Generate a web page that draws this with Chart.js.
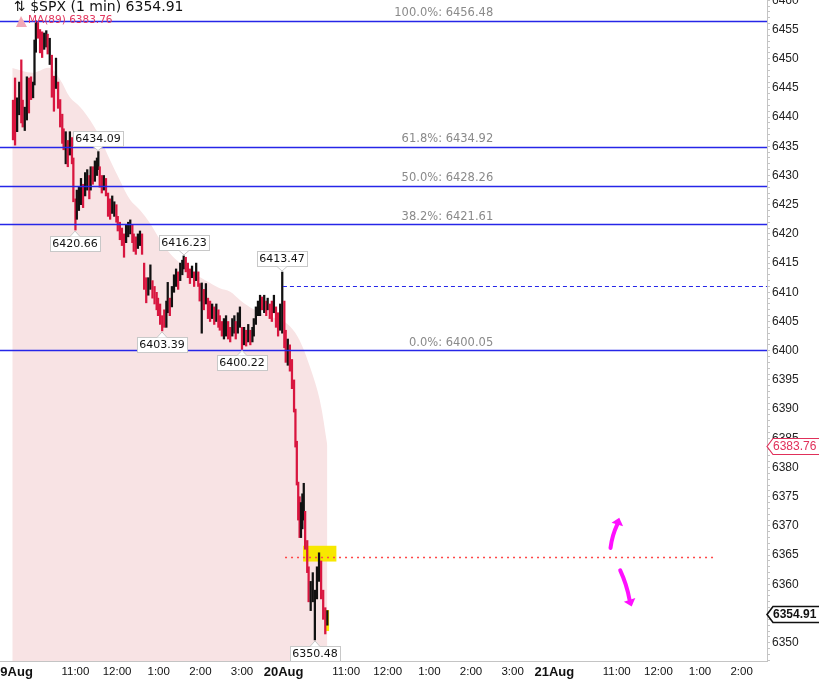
<!DOCTYPE html>
<html>
<head>
<meta charset="utf-8">
<script src="https://cdn.jsdelivr.net/npm/chart.js@4.4.1/dist/chart.umd.min.js"></script>
<style>
html, body { margin: 0; padding: 0; background: #fff; }
#wrap { position: relative; width: 819px; height: 680px; overflow: hidden; }
#spx { position: absolute; left: -20px; top: -10px; }
</style>
</head>
<body>
<div id="wrap"><canvas id="spx" width="839" height="690"></canvas></div>
<script>
// x = trading minutes counted from 19 Aug 09:30 (390 per session)
const tickMinutes = [0, 90, 150, 210, 270, 330, 390, 480, 540, 600, 660, 720, 780, 870, 930, 990, 1050];
const tickLabels = ['19Aug', '11:00', '12:00', '1:00', '2:00', '3:00', '20Aug', '11:00', '12:00', '1:00', '2:00', '3:00', '21Aug', '11:00', '12:00', '1:00', '2:00'];
const priceLabels = [6350, 6355, 6360, 6365, 6370, 6375, 6380, 6385, 6390, 6395, 6400, 6405, 6410, 6415, 6420, 6425, 6430, 6435, 6440, 6445, 6450, 6455, 6460];

const barMinutes = [0,3,6,9,12,14,17,20,23,26, 29,31,33,36,39,42,45,48,50,53,
  56,59,62,65,68,71,73,76,79,82, 85,87,90,92,95,98,101,104,107,110,
  112,115,118,121,123,125,128,131,134,137, 140,143,146,149,151,154,157,160,163,166,
  169,172,174,177,180,183,186,189,192,195, 198,201,204,207,209,212,215,218,221,223,
  226,229,232,235,238,241,244,246,249,252, 255,258,261,264,267,269,272,275,278,281,
  284,287,290,293,296,298,301,304,307,310, 313,316,319,321,324,327,330,333,336,339,
  342,345,347,350,353,356,359,362,365,367, 370,373,376,379,382,385,388,391,393,396,
  399,402,405,407,409,411,413,415,417,419, 421,424,426,429,432,435,438,441,444,447,
  450,453];
const barLow = [6436.1,6435.2,6437.5,6440.4,6439.0,6438.3,6437.7,6439.5,6440.7,6443.0,
  6443.3,6445.5,6451.1,6453.5,6451.0,6450.2,6451.6,6452.0,6450.8,6449.0,
  6443.4,6441.0,6444.9,6441.5,6438.3,6435.5,6434.4,6432.0,6431.5,6433.5,
  6432.0,6425.5,6420.66,6422.5,6424.0,6425.0,6424.5,6426.5,6427.5,6426.0,
  6427.5,6428.5,6429.0,6430.0,6431.0,6428.0,6427.0,6427.5,6426.5,6423.0,
  6422.5,6423.5,6423.0,6422.0,6420.5,6419.0,6418.0,6416.0,6418.5,6419.5,
  6420.0,6418.5,6417.0,6416.5,6417.5,6418.0,6416.5,6410.5,6408.2,6409.5,
  6410.5,6409.0,6408.0,6407.0,6406.0,6404.5,6403.39,6404.0,6404.0,6406.5,
  6406.0,6407.5,6410.0,6411.0,6410.5,6412.0,6413.0,6414.0,6413.5,6412.5,
  6411.5,6412.5,6411.0,6412.0,6411.0,6408.5,6403.0,6407.0,6408.0,6405.5,
  6405.0,6405.5,6404.5,6405.0,6404.0,6403.5,6402.5,6402.0,6402.5,6402.0,
  6401.5,6402.5,6403.0,6402.0,6403.0,6404.0,6400.22,6401.0,6400.8,6401.5,
  6401.0,6401.5,6402.5,6404.5,6406.0,6406.0,6407.0,6406.5,6406.0,6407.0,
  6405.5,6405.0,6406.5,6404.0,6402.5,6403.5,6403.0,6400.5,6398.0,6397.5,
  6396.5,6393.5,6389.5,6383.5,6377.0,6371.0,6368.0,6368.0,6369.5,6371.0,
  6366.0,6362.0,6357.0,6355.5,6357.0,6350.48,6357.5,6360.5,6357.5,6354.0,
  6351.5,6353.0];
const barHigh = [6442.9,6446.7,6443.3,6446.0,6449.8,6442.9,6441.7,6446.9,6446.7,6446.9,
  6446.0,6453.2,6456.48,6456.2,6455.0,6454.6,6454.4,6454.8,6454.2,6453.5,
  6450.6,6447.0,6450.1,6446.0,6443.0,6440.5,6438.0,6437.5,6436.0,6437.5,
  6436.5,6433.0,6426.0,6427.5,6428.0,6429.5,6428.5,6430.5,6431.0,6430.0,
  6431.5,6431.5,6432.5,6433.0,6434.09,6431.5,6430.0,6430.0,6429.5,6427.0,
  6426.0,6426.5,6425.5,6425.0,6423.0,6422.0,6421.0,6420.0,6421.5,6422.0,
  6422.4,6421.5,6420.0,6419.5,6420.0,6420.5,6420.0,6415.0,6412.5,6412.5,
  6414.7,6412.0,6411.0,6410.0,6409.0,6408.0,6406.0,6407.0,6408.5,6411.7,
  6409.0,6411.0,6413.0,6414.0,6413.5,6415.0,6415.5,6416.23,6416.0,6415.0,
  6414.0,6414.5,6413.5,6415.0,6413.5,6411.5,6411.6,6410.5,6411.5,6409.0,
  6408.5,6408.0,6407.5,6408.0,6407.0,6406.0,6405.0,6405.5,6406.0,6405.0,
  6404.0,6405.5,6406.0,6405.0,6406.5,6407.5,6404.0,6404.0,6403.5,6404.5,
  6403.5,6404.0,6405.5,6407.5,6408.5,6409.5,6409.2,6409.5,6408.5,6409.0,
  6408.0,6408.5,6409.5,6407.5,6406.5,6408.0,6413.47,6408.5,6403.5,6402.0,
  6401.0,6398.5,6395.0,6390.0,6384.5,6377.5,6375.0,6374.0,6375.5,6377.3,
  6372.5,6367.5,6363.0,6360.5,6362.0,6359.0,6363.0,6365.4,6364.0,6359.0,
  6356.0,6355.5];
// 1 = up bar (black), 0 = down bar (red)
const barUp = [0,0,1,1,0,0,1,1,0,0, 1,1,1,0,0,0,1,1,0,1, 0,0,1,0,0,0,0,1,0,1,
  0,0,0,1,1,1,0,1,1,0, 1,0,1,1,1,0,0,1,0,0, 0,1,1,0,0,0,0,0,1,1,
  1,0,0,0,1,1,0,0,0,1, 1,0,0,0,0,0,0,0,1,1, 0,1,1,1,0,1,1,1,0,0,
  0,1,0,1,0,0,1,0,1,0, 0,1,0,1,0,0,0,1,1,0, 0,1,1,0,1,1,0,1,0,1,
  0,1,1,1,1,1,0,1,0,1, 0,0,1,0,0,1,1,0,0,1, 0,0,0,0,0,0,0,1,1,1,
  0,0,0,1,1,1,1,1,0,0, 0,1];

const maMinutes = [-1, 29, 53, 68, 82, 97, 111, 125, 140, 154, 169, 183, 197, 212, 226, 241,
  255, 269, 284, 298, 313, 327, 341, 356, 370, 385, 399, 413, 428, 442, 453];
const maValues = [6448.4, 6447.6, 6448.4, 6446.4, 6443.4, 6441.7, 6439.5, 6436.6, 6432.6, 6429.2,
  6425.8, 6424.1, 6421.9, 6419.0, 6416.7, 6415.0, 6413.8, 6412.6, 6411.6, 6410.7, 6410.1,
  6408.7, 6407.5, 6406.6, 6405.8, 6405.3, 6404.2, 6401.8, 6397.2, 6391.6, 6383.76];

const fibPct = ['100.0%', '61.8%', '50.0%', '38.2%', '0.0%'];
const fibPrice = [6456.48, 6434.92, 6428.26, 6421.61, 6400.05];

const swingMinutes = [123, 90, 246, 215, 330, 388, 435];
const swingPrices = [6434.09, 6420.66, 6416.23, 6403.39, 6400.22, 6413.47, 6350.48];
const swingIsHigh = [1, 0, 1, 0, 0, 1, 0];

const lastPrice = 6354.91;
const lastMA = 6383.76;
const breakLevel = 6411.1;
const retestLevel = 6364.7;
const retestMinutes = [418, 466];
const retestPrices = [6363.9, 6366.6];
const lastBarMinutes = [451, 455.5];
const lastBarPrices = [6352.0, 6355.6];
const arrowTailT = [861, 875];
const arrowTailP = [6366.2, 6362.4];
const arrowTipT = [873.6, 891.5];
const arrowTipP = [6371.4, 6356.2];

const UP = '#111111', DOWN = '#d8163f';

function rect(ctx, x, y, tA, tB, pA, pB, color) {
  const x0 = x.getPixelForValue(tA), x1 = x.getPixelForValue(tB);
  const y0 = y.getPixelForValue(pB), y1 = y.getPixelForValue(pA);
  ctx.fillStyle = color;
  ctx.fillRect(x0, y0, x1 - x0, y1 - y0);
}

function hline(ctx, x, y, p, tA, tB, color, dash, width) {
  const py = Math.round(y.getPixelForValue(p)) + 0.5;
  ctx.beginPath();
  ctx.setLineDash(dash);
  ctx.strokeStyle = color;
  ctx.lineWidth = width;
  ctx.moveTo(x.getPixelForValue(tA), py);
  ctx.lineTo(x.getPixelForValue(tB), py);
  ctx.stroke();
  ctx.setLineDash([]);
}

function callout(ctx, px, py, text, above) {
  ctx.font = '11px "DejaVu Sans"';
  const w = Math.round(ctx.measureText(text).width) + 5, h = 15;
  const bx = Math.round(px - w / 2) + 0.5;
  const by = above ? Math.round(py - 6 - h) + 0.5 : Math.round(py + 6) + 0.5;
  ctx.fillStyle = '#fff';
  ctx.strokeStyle = '#c8c8c8';
  ctx.lineWidth = 1;
  ctx.fillRect(bx, by, w, h);
  ctx.strokeRect(bx, by, w, h);
  // little pointer
  const edge = above ? by + h : by;
  const tip = above ? py - 1 : py + 1;
  ctx.beginPath();
  ctx.moveTo(px - 5, edge);
  ctx.lineTo(px, tip);
  ctx.lineTo(px + 5, edge);
  ctx.fillStyle = '#fff';
  ctx.fill();
  ctx.stroke();
  ctx.fillStyle = '#111';
  ctx.textAlign = 'center';
  ctx.textBaseline = 'middle';
  ctx.fillText(text, px, by + h / 2 + 0.5);
}

function axisTag(ctx, left, py, text, color, bold) {
  ctx.font = (bold ? 'bold ' : '') + '12px "Liberation Sans"';
  ctx.beginPath();
  ctx.moveTo(left, py);
  ctx.lineTo(left + 6, py - 8);
  ctx.lineTo(left + 70, py - 8);
  ctx.lineTo(left + 70, py + 8);
  ctx.lineTo(left + 6, py + 8);
  ctx.closePath();
  ctx.fillStyle = '#fff';
  ctx.fill();
  ctx.strokeStyle = color;
  ctx.lineWidth = bold ? 1.6 : 1.2;
  ctx.stroke();
  ctx.fillStyle = color;
  ctx.textAlign = 'left';
  ctx.textBaseline = 'middle';
  ctx.fillText(text, left + 6, py + 0.5);
}

const overlay = {
  id: 'overlay',
  beforeDatasetDraw(chart, args) {
    if (args.index !== 1) return;
    const {ctx, chartArea: a, scales: {x, y}} = chart;
    ctx.save();
    ctx.beginPath();
    ctx.rect(a.left, a.top, a.right - a.left, a.bottom - a.top);
    ctx.clip();
    rect(ctx, x, y, retestMinutes[0], retestMinutes[1], retestPrices[0], retestPrices[1], '#f7e800');
    rect(ctx, x, y, lastBarMinutes[0], lastBarMinutes[1], lastBarPrices[0], lastBarPrices[1], '#f7e800');
    ctx.restore();
  },
  afterDatasetsDraw(chart) {
    const {ctx, chartArea: a, scales: {x, y}} = chart;
    ctx.save();
    ctx.beginPath();
    ctx.rect(a.left, a.top, a.right - a.left, a.bottom - a.top);
    ctx.clip();

    // fibonacci levels
    fibPrice.forEach((p, i) => {
      hline(ctx, x, y, p, x.min, x.max, '#2626e8', [], 1.3);
      ctx.font = '11.5px "DejaVu Sans"';
      ctx.fillStyle = '#8a8a8a';
      ctx.textAlign = 'right';
      ctx.textBaseline = 'bottom';
      ctx.fillText(fibPct[i] + ': ' + p.toFixed(2), x.getPixelForValue(692), y.getPixelForValue(p) - 2);
    });
    hline(ctx, x, y, breakLevel, 389, x.max, '#2626e8', [4, 3], 1.2);
    hline(ctx, x, y, retestLevel, 392, 1013, '#ff4848', [2, 4], 1.5);

    // hand drawn arrows
    ctx.strokeStyle = '#ff10ff';
    ctx.fillStyle = '#ff10ff';
    ctx.lineWidth = 4;
    ctx.lineCap = 'round';
    arrowTailT.forEach((t, i) => {
      const x0 = x.getPixelForValue(t), y0 = y.getPixelForValue(arrowTailP[i]);
      const x1 = x.getPixelForValue(arrowTipT[i]), y1 = y.getPixelForValue(arrowTipP[i]);
      const ang = Math.atan2(y1 - y0, x1 - x0);
      const bx = x1 - Math.cos(ang) * 7, by = y1 - Math.sin(ang) * 7;
      ctx.beginPath();
      ctx.moveTo(x0, y0);
      ctx.quadraticCurveTo((x0 + bx) / 2 + Math.sin(ang) * 2, (y0 + by) / 2 - Math.cos(ang) * 2, bx, by);
      ctx.stroke();
      ctx.beginPath();
      ctx.moveTo(x1, y1);
      ctx.lineTo(bx + Math.cos(ang + Math.PI / 2) * 6, by + Math.sin(ang + Math.PI / 2) * 6);
      ctx.lineTo(bx - Math.cos(ang + Math.PI / 2) * 6, by - Math.sin(ang + Math.PI / 2) * 6);
      ctx.closePath();
      ctx.fill();
    });
    ctx.restore();

    ctx.save();
    swingMinutes.forEach((t, i) => {
      callout(ctx, Math.round(x.getPixelForValue(t)), y.getPixelForValue(swingPrices[i]),
        swingPrices[i].toFixed(2), swingIsHigh[i] === 1);
    });
    ctx.restore();
  },
  afterDraw(chart) {
    const {ctx, chartArea: a, scales: {y}} = chart;
    ctx.save();
    ctx.textAlign = 'left';
    ctx.textBaseline = 'middle';
    ctx.font = '14px "DejaVu Sans"';
    ctx.fillStyle = '#111';
    ctx.fillText('⇅ $SPX (1 min) ' + lastPrice.toFixed(2), a.left + 14, a.top + 7);
    // MA legend with its small mountain icon
    ctx.fillStyle = '#f2a7b6';
    ctx.beginPath();
    ctx.moveTo(a.left + 16, a.top + 27);
    ctx.lineTo(a.left + 21, a.top + 16);
    ctx.lineTo(a.left + 27, a.top + 27);
    ctx.closePath();
    ctx.fill();
    ctx.font = '10.5px "DejaVu Sans"';
    ctx.fillStyle = '#e2375f';
    ctx.fillText('MA(89) ' + lastMA.toFixed(2), a.left + 28, a.top + 20);

    axisTag(ctx, a.right, Math.round(y.getPixelForValue(lastMA)) + 0.5, lastMA.toFixed(2), '#e0305a', false);
    axisTag(ctx, a.right, Math.round(y.getPixelForValue(lastPrice)) + 0.5, lastPrice.toFixed(2), '#111', true);
    ctx.restore();
  }
};

new Chart(document.getElementById('spx'), {
  type: 'bar',
  data: {
    datasets: [
      {
        type: 'line',
        label: 'MA(89)',
        data: maMinutes.map((t, i) => ({x: t, y: maValues[i]})),
        fill: 'start',
        backgroundColor: '#f8e3e4',
        borderWidth: 0,
        pointRadius: 0,
        tension: 0.35,
        order: 2
      },
      {
        label: '$SPX',
        data: barMinutes.map((t, i) => ({x: t, y: [barLow[i], barHigh[i]]})),
        backgroundColor: barUp.map(u => u ? UP : DOWN),
        barThickness: 1.6,
        grouped: false,
        order: 1
      }
    ]
  },
  options: {
    responsive: false,
    animation: false,
    layout: {padding: {left: 20, top: 10, right: 0, bottom: 0}},
    plugins: {legend: {display: false}, tooltip: {enabled: false}},
    scales: {
      x: {
        type: 'linear',
        offset: false,
        min: -18.7,
        max: 1086.5,
        afterBuildTicks: s => { s.ticks = tickMinutes.map(v => ({value: v})); },
        afterFit: s => { s.height = 19; },
        ticks: {
          autoSkip: false,
          maxRotation: 0,
          padding: 4,
          color: '#111',
          callback: (v, i) => tickLabels[i],
          font: c => (tickLabels[c.index] || '').includes('Aug')
            ? {family: 'Liberation Sans', size: 13, weight: 'bold'}
            : {family: 'Liberation Sans', size: 11.5}
        },
        grid: {
          drawTicks: false,
          color: c => (c.tick && c.tick.value === 0) ? '#c4c4c4' : 'rgba(0,0,0,0)'
        },
        border: {color: '#c4c4c4'}
      },
      y: {
        position: 'right',
        min: 6346.87,
        max: 6460.05,
        afterBuildTicks: s => {
          const t = [];
          for (let v = Math.ceil(s.min); v <= Math.floor(s.max); v++) t.push({value: v});
          s.ticks = t;
        },
        afterFit: s => { s.width = 52; },
        ticks: {
          autoSkip: false,
          padding: 2,
          color: '#222',
          font: {family: 'Liberation Sans', size: 12},
          callback: v => priceLabels.includes(v) ? String(v) : ''
        },
        grid: {drawOnChartArea: false, tickLength: 3, color: '#c4c4c4'},
        border: {color: '#c4c4c4'}
      }
    }
  },
  plugins: [overlay]
});
</script>
</body>
</html>
